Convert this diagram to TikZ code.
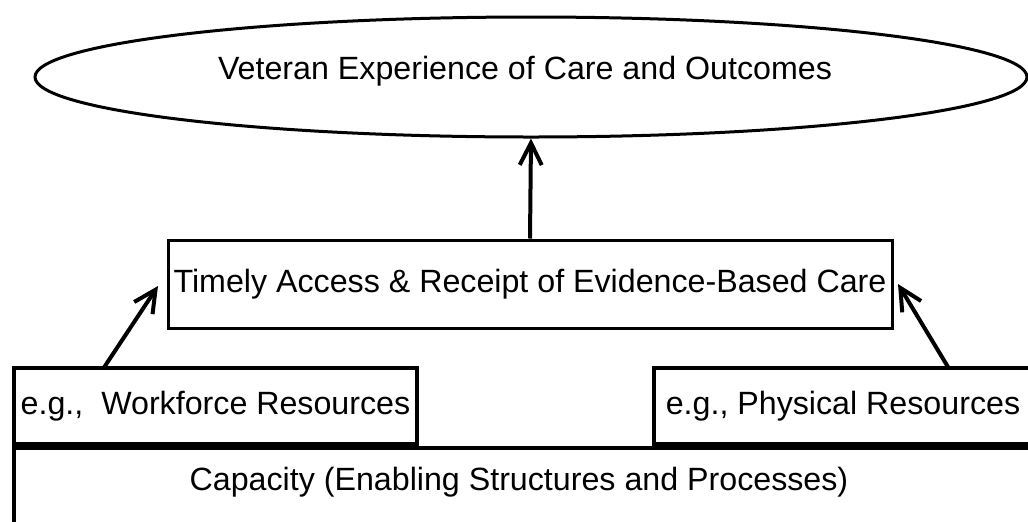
\documentclass[tikz,border=0pt]{standalone}
\usepackage{fontspec}
\setmainfont{Liberation Sans}
\usetikzlibrary{shapes.geometric,arrows.meta}
\begin{document}
\begin{tikzpicture}[x=0.5pt,y=-0.5pt,
  every node/.style={font=\fontsize{16.1}{19}\selectfont, inner sep=0pt},
  box/.style={draw, line width=1.5pt, rectangle},
  basebox/.style={draw, line width=2pt, rectangle},
  link/.style={line width=2pt, -{Straight Barb[length=11pt,width=11pt,line width=2pt]}}]
  \useasboundingbox (0,0) rectangle (1028,521);
  \clip (0,0) rectangle (1028,521);

  % outcome ellipse and its caption
  \node[draw, ellipse, line width=1.5pt, minimum width=496pt, minimum height=60pt] (outcome) at (531,77) {};
  \node (outcometext) at (525,71) {Veteran Experience of Care and Outcomes};

  % middle box
  \node[box, minimum width=362pt, minimum height=44pt] (access) at (530,284)
    {Timely Access \& Receipt of Evidence-Based Care};

  % capacity frame (runs past the lower and right edges)
  \node[basebox, anchor=north west, minimum width=520pt, minimum height=60pt] (capacity) at (12,446) {};
  \node (capacitytext) at (519,482) {Capacity (Enabling Structures and Processes)};

  % resource boxes sitting on the capacity frame
  \node[basebox, anchor=south west, minimum width=201.5pt, minimum height=38pt] (workforce) at (12,446)
    {e.g.,\ \ Workforce Resources};
  \node[basebox, anchor=south west, minimum width=189pt, minimum height=38pt] (physical) at (652,446)
    {e.g., Physical Resources};

  % connectors
  \coordinate (wstart) at (103,369);
  \coordinate (wtip) at (158,286);
  \coordinate (pstart) at (948,367);
  \coordinate (ptip) at (898,284);
  \draw[link] (access.north) -- (outcome.south);
  \draw[link] (wstart) -- (wtip);
  \draw[link] (pstart) -- (ptip);
\end{tikzpicture}
\end{document}
